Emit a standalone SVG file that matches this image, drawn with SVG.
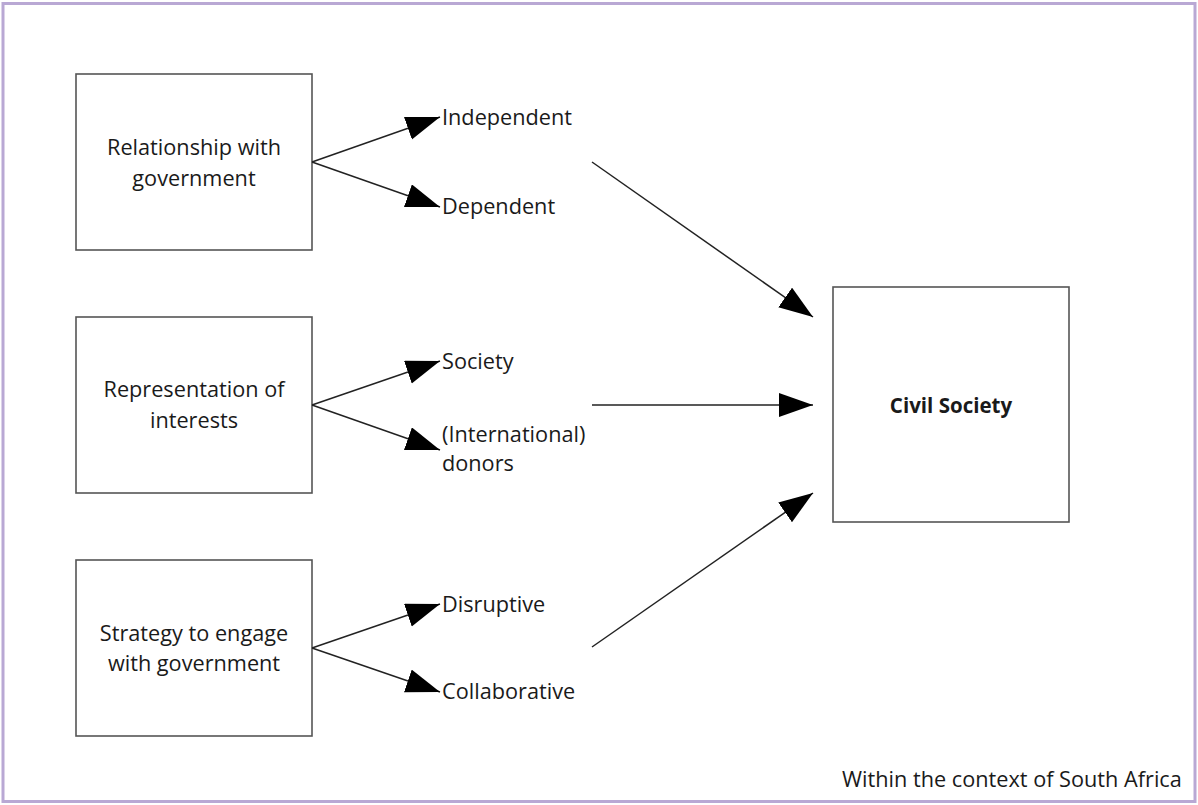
<svg xmlns="http://www.w3.org/2000/svg" width="1198" height="805" viewBox="0 0 1198 805">
<style>
.box{fill:#fff;stroke:#555;stroke-width:1.6}
.t{font-family:"Open Sans","Liberation Sans",sans-serif;font-size:21.7px;fill:#1a1a1a}
.c{text-anchor:middle}
.b{font-weight:bold;font-size:20.5px}
.ln{stroke:#222;stroke-width:1.5;fill:none;marker-end:url(#ah)}
</style>
<defs>
<marker id="ah" markerUnits="userSpaceOnUse" markerWidth="36" markerHeight="26" refX="34" refY="12" orient="auto">
<path d="M0,0 L34,12 L0,24 Z" fill="#000"/>
</marker>
</defs>
<rect x="0" y="0" width="1198" height="805" fill="#fff"/>
<rect x="3" y="3.5" width="1192" height="798" fill="none" stroke="#b9a8d4" stroke-width="3"/>
<g id="n-relationship">
<rect class="box" x="76" y="74" width="236" height="176"/>
<text class="t c" x="194" y="155">Relationship with</text>
<text class="t c" x="194" y="186">government</text>
</g>
<g id="n-representation">
<rect class="box" x="76" y="317" width="236" height="176"/>
<text class="t c" x="194" y="397">Representation of</text>
<text class="t c" x="194" y="428">interests</text>
</g>
<g id="n-strategy">
<rect class="box" x="76" y="560" width="236" height="176"/>
<text class="t c" x="194" y="641">Strategy to engage</text>
<text class="t c" x="194" y="671">with government</text>
</g>
<g id="n-civil">
<rect class="box" x="833" y="287" width="236" height="235"/>
<text class="t c b" x="951" y="413">Civil Society</text>
</g>
<g id="n-independent"><text class="t" x="442" y="125">Independent</text></g>
<g id="n-dependent"><text class="t" x="442" y="214">Dependent</text></g>
<g id="n-society"><text class="t" x="442" y="369">Society</text></g>
<g id="n-donors"><text class="t" x="442" y="442">(International)</text><text class="t" x="442" y="471">donors</text></g>
<g id="n-disruptive"><text class="t" x="442" y="612">Disruptive</text></g>
<g id="n-collaborative"><text class="t" x="442" y="699">Collaborative</text></g>
<g id="connectors">
<line class="ln" x1="312" y1="162" x2="440" y2="117"/>
<line class="ln" x1="312" y1="162" x2="440" y2="207"/>
<line class="ln" x1="312" y1="405" x2="440" y2="361"/>
<line class="ln" x1="312" y1="405" x2="440" y2="450"/>
<line class="ln" x1="312" y1="648" x2="440" y2="604"/>
<line class="ln" x1="312" y1="648" x2="440" y2="692"/>
<line class="ln" x1="592" y1="162" x2="813" y2="317"/>
<line class="ln" x1="592" y1="405" x2="813" y2="405"/>
<line class="ln" x1="592" y1="647" x2="813" y2="493"/>
</g>
<text class="t" x="842" y="787">Within the context of South Africa</text>
</svg>
